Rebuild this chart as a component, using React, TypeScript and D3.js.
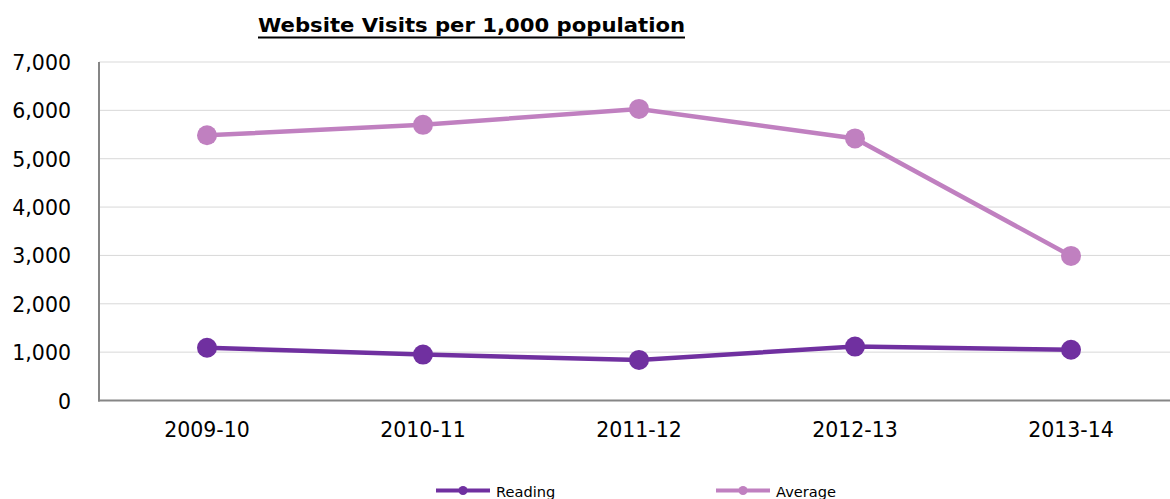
import * as d3 from "d3";

const years = ["2009-10", "2010-11", "2011-12", "2012-13", "2013-14"];
const reading = [1090, 950, 840, 1115, 1050];
const average = [5485, 5700, 6030, 5420, 2990];
const yTicks = [0, 1000, 2000, 3000, 4000, 5000, 6000, 7000];

const series = [
  { name: "Reading", values: reading, color: "#7030A0" },
  { name: "Average", values: average, color: "#C080C0" },
];

const W = 1170;
const H = 499;
const font = "'DejaVu Sans', Verdana, sans-serif";

export default function App() {
  const x = d3.scaleBand<string>().domain(years).range([99, 1179]);
  const cx = (c: string) => (x(c) as number) + x.bandwidth() / 2;
  const y = d3.scaleLinear().domain([0, 7000]).range([400.5, 62]);
  const fmt = d3.format(",");

  const line = d3
    .line<number>()
    .x((_, i) => cx(years[i]))
    .y((d) => y(d));

  // legend slots
  const legend = d3.scalePoint<string>().domain(series.map((s) => s.name)).range([436, 716]);

  return (
    <svg
      width={W}
      height={H}
      style={{ position: "absolute", left: 0, top: 0, background: "#fff" }}
      fontFamily={font}
    >
      {/* title */}
      <text
        x={258}
        y={31.5}
        fontSize={19}
        fontWeight="bold"
        textLength={427}
        lengthAdjust="spacingAndGlyphs"
        fill="#000"
      >
        Website Visits per 1,000 population
      </text>
      <line x1={258} x2={685} y1={37.5} y2={37.5} stroke="#000" strokeWidth={2} />

      {/* gridlines */}
      {yTicks.slice(1).map((t) => (
        <line key={t} x1={99} x2={W} y1={y(t)} y2={y(t)} stroke="#d9d9d9" strokeWidth={1} />
      ))}

      {/* y labels */}
      {yTicks.map((t) => (
        <text key={t} x={71} y={y(t) + 8} fontSize={20.5} textAnchor="end" fill="#000">
          {fmt(t)}
        </text>
      ))}

      {/* axes */}
      <line x1={99} x2={99} y1={y(7000)} y2={y(0) + 1} stroke="#868686" strokeWidth={2} />
      <line x1={98} x2={W} y1={y(0)} y2={y(0)} stroke="#868686" strokeWidth={2} />

      {/* x labels */}
      {years.map((c) => (
        <text key={c} x={cx(c)} y={437} fontSize={20.5} textAnchor="middle" fill="#000">
          {c}
        </text>
      ))}

      {/* series */}
      {series.map((s) => (
        <g key={s.name}>
          <path d={line(s.values) || ""} fill="none" stroke={s.color} strokeWidth={4.5} />
          {s.values.map((v, i) => (
            <circle key={i} cx={cx(years[i])} cy={y(v)} r={10} fill={s.color} />
          ))}
        </g>
      ))}

      {/* legend */}
      {series.map((s) => {
        const lx = legend(s.name) as number;
        return (
          <g key={s.name}>
            <line x1={lx} x2={lx + 54} y1={490.5} y2={490.5} stroke={s.color} strokeWidth={4} />
            <circle cx={lx + 27} cy={490.5} r={4.5} fill={s.color} />
            <text x={lx + 60} y={497} fontSize={14.6} fill="#000">
              {s.name}
            </text>
          </g>
        );
      })}
    </svg>
  );
}
